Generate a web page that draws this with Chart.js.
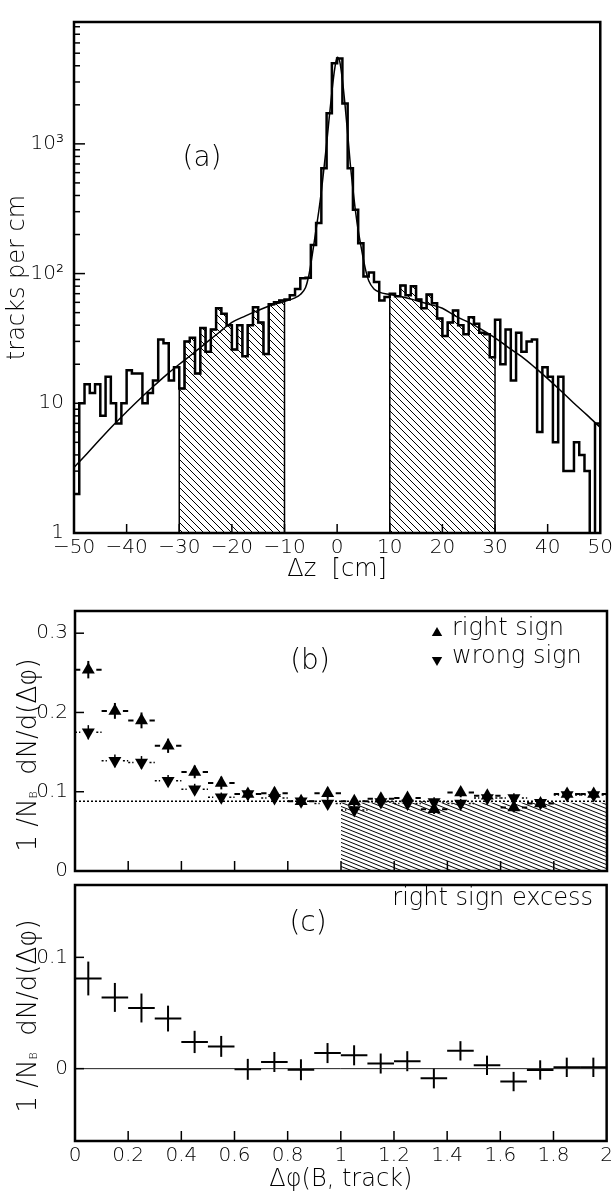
<!DOCTYPE html>
<html>
<head>
<meta charset="utf-8">
<script src="https://cdn.jsdelivr.net/npm/chart.js@4.4.0/dist/chart.umd.min.js"></script>
<style>
  html, body { margin: 0; padding: 0; background: #fff; }
  #wrap { position: relative; width: 616px; height: 1194px; overflow: hidden; }
  canvas { position: absolute; left: 0; }
</style>
</head>
<body>
<div id="wrap">
  <canvas id="chartA" width="616" height="590" style="top:0px"></canvas>
  <canvas id="chartB" width="616" height="300" style="top:590px"></canvas>
  <canvas id="chartC" width="616" height="328" style="top:866px"></canvas>
</div>
<script>
// ---- panel (a): tracks per cm, 1 cm bins from -50 to 50 ----
const dzLow = -50;
const dzBin = 1;
const tracksPerCm = [
  2, 10, 14, 12, 14, 8, 16, 10, 7, 10,
  18, 17, 17, 10, 12, 15, 31, 29, 15, 19,
  13, 30, 32, 17, 38, 25, 37, 54, 49, 40,
  26, 40, 23, 40, 55, 42, 24, 58, 60, 62,
  63, 68, 76, 92, 93, 166, 245, 650, 1720, 4180,
  4550, 2050, 650, 310, 171, 95, 102, 86, 62, 66,
  70, 67, 81, 68, 80, 63, 54, 69, 59, 45,
  33, 42, 52, 40, 34, 46, 41, 35, 34, 22.6,
  44, 20, 37, 15, 35, 25, 30, 31, 6, 19,
  16, 5, 16, 3, 3, 5, 4, 3, 0, 7
];
const sideBands = [[-30, -10], [10, 30]];

const fitDz = [-50, -47.5, -45, -42.5, -40, -37.5, -35, -32.5, -30, -27.5,
  -25, -22.5, -20, -17.5, -15, -12.5, -10, -8, -7, -6,
  -5.5, -5, -4.5, -4, -3.5, -3, -2.5, -2, -1.5, -1,
  -0.5, 0, 0.5, 1, 1.5, 2, 2.5, 3, 3.5, 4,
  4.5, 5, 5.5, 6, 7, 8, 10, 12.5, 15, 17.5,
  20, 22.5, 25, 27.5, 30, 32.5, 35, 37.5, 40, 42.5,
  45, 47.5, 50];
const fitTracks = [3.2, 4.1, 5.3, 6.8, 8.6, 10.8, 13.4, 16.5, 20, 24,
  29, 35, 42, 47, 52, 57, 61, 65, 69, 78,
  92, 118, 160, 220, 300, 430, 650, 1000, 1600, 2500,
  3700, 4650, 4300, 3100, 2000, 1200, 700, 450, 300, 215,
  165, 128, 103, 88, 76, 72, 69, 66, 62, 58,
  54, 47, 42, 37, 32, 27, 23, 19, 15.5, 12.5,
  10, 8.1, 6.5];

const aXTicks = [-50, -40, -30, -20, -10, 0, 10, 20, 30, 40, 50];
const aYTicks = [1, 2, 3, 4, 5, 6, 7, 8, 9, 10, 20, 30, 40, 50, 60, 70, 80, 90,
  100, 200, 300, 400, 500, 600, 700, 800, 900, 1000, 2000, 3000, 4000, 5000, 6000, 7000, 8000];
const aYLabels = { 1: '1', 10: '10', 100: '10\u00b2', 1000: '10\u00b3' };

// ---- panels (b) and (c): bins of Δφ(B, track) ----
const phiCenters = [0.05, 0.15, 0.25, 0.35, 0.45, 0.55, 0.65, 0.75, 0.85, 0.95,
  1.05, 1.15, 1.25, 1.35, 1.45, 1.55, 1.65, 1.75, 1.85, 1.95];
const phiHalfBin = 0.05;
const rightSign = [0.254, 0.202, 0.190, 0.158, 0.125, 0.111, 0.097, 0.098, 0.088, 0.098,
  0.088, 0.091, 0.092, 0.078, 0.099, 0.095, 0.080, 0.085, 0.097, 0.097];
const rightSignErr = [0.011, 0.010, 0.010, 0.009, 0.008, 0.008, 0.007, 0.007, 0.007, 0.007,
  0.006, 0.006, 0.006, 0.006, 0.006, 0.006, 0.006, 0.006, 0.006, 0.006];
const wrongSign = [0.175, 0.139, 0.137, 0.114, 0.103, 0.093, 0.097, 0.092, 0.088, 0.085,
  0.077, 0.087, 0.085, 0.087, 0.085, 0.092, 0.092, 0.086, 0.096, 0.096];
const wrongSignErr = [0.009, 0.008, 0.008, 0.007, 0.007, 0.006, 0.006, 0.006, 0.006, 0.006,
  0.006, 0.006, 0.006, 0.006, 0.006, 0.006, 0.006, 0.006, 0.006, 0.006];
const plateauRange = [0, 2];
const plateauLevel = 0.088;
const bandRangeB = [1, 2];
const bandLevelB = 0.086;

const excess = [0.081, 0.064, 0.0545, 0.045, 0.024, 0.020, -0.0006, 0.006, -0.001, 0.014,
  0.012, 0.0046, 0.0067, -0.0087, 0.016, 0.003, -0.0116, -0.0012, 0.0012, 0.0012];
const excessErr = [0.0152, 0.013, 0.013, 0.0116, 0.010, 0.0094, 0.0094, 0.009, 0.0094, 0.009,
  0.009, 0.009, 0.009, 0.009, 0.0087, 0.0087, 0.0087, 0.0087, 0.0087, 0.0087];

const phiTicks = [0, 0.2, 0.4, 0.6, 0.8, 1, 1.2, 1.4, 1.6, 1.8, 2];
const bYTicks = [0, 0.1, 0.2, 0.3];
const cYTicks = [0, 0.1];

const FONT = '"DejaVu Sans", sans-serif';
const W = '300 ';
Chart.defaults.font.family = FONT;
Chart.defaults.font.weight = 300;
Chart.defaults.color = '#000';

const yFloor = 0.5; // empty bins sit below the log axis

function hatchPattern(canvasId, w, h, lw) {
  const tile = document.createElement('canvas');
  tile.width = w; tile.height = h;
  const g = tile.getContext('2d');
  g.strokeStyle = '#000';
  g.lineWidth = lw;
  g.beginPath();
  [-h, 0, h].forEach(dy => { g.moveTo(-w, dy - h); g.lineTo(2 * w, dy + 2 * h); });
  g.stroke();
  return document.getElementById(canvasId).getContext('2d').createPattern(tile, 'repeat');
}

const isDecade = v => Math.abs(Math.log10(v) - Math.round(Math.log10(v))) < 1e-9;
const numLabel = v => String(+v.toFixed(2));

const boxFrame = {
  id: 'boxFrame',
  afterDraw(chart) {
    const a = chart.chartArea, ctx = chart.ctx;
    ctx.save();
    ctx.lineWidth = 2.5;
    ctx.strokeStyle = '#000';
    ctx.strokeRect(a.left, a.top, a.right - a.left, a.bottom - a.top);
    ctx.restore();
  }
};

const innerTicks = {
  id: 'innerTicks',
  afterDatasetsDraw(chart, args, opts) {
    const a = chart.chartArea, ctx = chart.ctx;
    ctx.save();
    ctx.strokeStyle = '#000';
    ctx.lineWidth = 1.5;
    (opts.axes || []).forEach(ax => {
      const sc = chart.scales[ax.id];
      sc.ticks.forEach(t => {
        const p = sc.getPixelForValue(t.value);
        const len = (ax.minor && !isDecade(t.value)) ? ax.minor : ax.len;
        if (sc.isHorizontal()) {
          if (p <= a.left + 1 || p >= a.right - 1) return;
          ctx.beginPath(); ctx.moveTo(p, a.bottom); ctx.lineTo(p, a.bottom - len); ctx.stroke();
        } else {
          if (p <= a.top + 1 || p >= a.bottom - 1) return;
          ctx.beginPath(); ctx.moveTo(a.left, p); ctx.lineTo(a.left + len, p); ctx.stroke();
        }
      });
    });
    ctx.restore();
  }
};

const errorBars = {
  id: 'errorBars',
  beforeDatasetsDraw(chart) {
    const ctx = chart.ctx, xs = chart.scales.x, ys = chart.scales.y;
    chart.data.datasets.forEach(ds => {
      if (!ds.errY) return;
      ctx.save();
      ctx.strokeStyle = '#000';
      ctx.lineWidth = ds.barWidth || 1.5;
      ds.data.forEach((pt, i) => {
        const px = xs.getPixelForValue(pt.x), py = ys.getPixelForValue(pt.y);
        const xl = xs.getPixelForValue(pt.x - phiHalfBin), xr = xs.getPixelForValue(pt.x + phiHalfBin);
        const yt = ys.getPixelForValue(pt.y + ds.errY[i]), yb = ys.getPixelForValue(pt.y - ds.errY[i]);
        const gap = ds.barGap || 0;
        ctx.setLineDash(ds.barDash || []);
        ctx.beginPath();
        ctx.moveTo(xl, py); ctx.lineTo(px - gap, py);
        ctx.moveTo(px + gap, py); ctx.lineTo(xr, py);
        ctx.stroke();
        ctx.setLineDash([]);
        ctx.beginPath();
        ctx.moveTo(px, yt); ctx.lineTo(px, yb);
        ctx.stroke();
      });
      ctx.restore();
    });
  }
};

function triangle(ctx, x, y, r, down) {
  const s = down ? -1 : 1;
  ctx.beginPath();
  ctx.moveTo(x, y - s * r);
  ctx.lineTo(x + r * 0.866, y + s * r * 0.5);
  ctx.lineTo(x - r * 0.866, y + s * r * 0.5);
  ctx.closePath();
  ctx.fill();
}

const panelText = {
  id: 'panelText',
  afterDraw(chart, args, opts) {
    const ctx = chart.ctx;
    ctx.save();
    ctx.fillStyle = '#000';
    (opts.items || []).forEach(it => {
      ctx.font = it.font;
      ctx.textAlign = it.align || 'left';
      ctx.textBaseline = it.baseline || 'alphabetic';
      ctx.fillText(it.text, it.x, it.y);
    });
    (opts.marks || []).forEach(m => triangle(ctx, m.x, m.y, m.r, m.down));
    ctx.restore();
  }
};

// rotated "1/N_B dN/d(Δφ)" title, B as a small subscript
const ratioTitle = {
  id: 'ratioTitle',
  afterDraw(chart, args, opts) {
    if (!opts.show) return;
    const a = chart.chartArea, ctx = chart.ctx;
    const parts = [
      { t: '1 /N', f: W + '26px ' + FONT, dy: 0 },
      { t: 'B', f: W + '11px ' + FONT, dy: 1 },
      { t: '  dN/d(\u0394\u03c6)', f: W + '26px ' + FONT, dy: 0 }
    ];
    ctx.save();
    ctx.translate(opts.x, (a.top + a.bottom) / 2 + opts.dy);
    ctx.rotate(-Math.PI / 2);
    ctx.fillStyle = '#000';
    ctx.textBaseline = 'alphabetic';
    ctx.textAlign = 'left';
    let total = 0;
    parts.forEach(p => { ctx.font = p.f; p.w = ctx.measureText(p.t).width; total += p.w; });
    let u = -total / 2;
    parts.forEach(p => { ctx.font = p.f; ctx.fillText(p.t, u, p.dy); u += p.w; });
    ctx.restore();
  }
};

// ---------- chart (a) ----------
const histPoints = tracksPerCm.map((v, i) => ({ x: dzLow + i * dzBin, y: v > 0 ? v : yFloor }));
histPoints.push({ x: dzLow + tracksPerCm.length * dzBin, y: tracksPerCm[tracksPerCm.length - 1] });
histPoints.push({ x: dzLow + tracksPerCm.length * dzBin, y: yFloor });

function bandPoints(lo, hi) {
  const pts = [{ x: lo, y: yFloor }];
  let last = yFloor;
  tracksPerCm.forEach((v, i) => {
    const x = dzLow + i * dzBin;
    if (x >= lo && x < hi) { pts.push({ x, y: v }); last = v; }
  });
  pts.push({ x: hi, y: last });
  pts.push({ x: hi, y: yFloor });
  return pts;
}

const patA = hatchPattern('chartA', 7, 7, 1);
const fitPoints = fitDz.map((x, i) => ({ x, y: fitTracks[i] }));

new Chart(document.getElementById('chartA'), {
  type: 'line',
  data: {
    datasets: [
      { label: 'data', data: histPoints, stepped: true, borderColor: '#000', borderWidth: 2.5, pointRadius: 0, fill: false },
      { label: 'fit', data: fitPoints, borderColor: '#000', borderWidth: 1.5, pointRadius: 0, fill: false, cubicInterpolationMode: 'monotone' },
      ...sideBands.map(b => ({
        label: 'side band', data: bandPoints(b[0], b[1]), stepped: true,
        borderColor: '#000', borderWidth: 1.5, pointRadius: 0, fill: 'start', backgroundColor: patA
      }))
    ]
  },
  options: {
    responsive: false,
    animation: false,
    devicePixelRatio: 1,
    layout: { autoPadding: false, padding: { left: 0, right: 11, top: 4, bottom: 0 } },
    plugins: {
      legend: { display: false },
      tooltip: { enabled: false },
      innerTicks: { axes: [{ id: 'x', len: 9 }, { id: 'y', len: 11, minor: 6 }] },
      panelText: { items: [{ text: '(a)', x: 202, y: 159, font: W + '28px ' + FONT, align: 'center', baseline: 'middle' }] }
    },
    scales: {
      x: {
        type: 'linear', min: -50, max: 50,
        afterBuildTicks: s => { s.ticks = aXTicks.map(v => ({ value: v })); },
        afterFit: s => { s.height = 57; },
        grid: { display: false, drawTicks: false },
        border: { display: false },
        ticks: {
          autoSkip: false, maxRotation: 0, padding: 3, font: { size: 20 },
          callback: v => v < 0 ? '\u2212' + (-v) : String(v)
        },
        title: { display: true, text: '\u0394z  [cm]', font: { size: 24 }, padding: { top: 0, bottom: 6 } }
      },
      y: {
        type: 'logarithmic', min: 1, max: 8700,
        afterBuildTicks: s => { s.ticks = aYTicks.map(v => ({ value: v })); },
        afterFit: s => { s.width = 74; },
        grid: { display: false, drawTicks: false },
        border: { display: false },
        ticks: { autoSkip: false, padding: 10, font: { size: 20 }, callback: v => aYLabels[v] || '' },
        title: { display: true, text: 'tracks per cm', font: { size: 24 }, padding: { top: 3, bottom: 0 } }
      }
    }
  },
  plugins: [innerTicks, boxFrame, panelText]
});

// ---------- chart (b) ----------
const patB = hatchPattern('chartB', 10, 4, 1);

new Chart(document.getElementById('chartB'), {
  type: 'line',
  data: {
    datasets: [
      {
        label: 'right sign', data: phiCenters.map((x, i) => ({ x, y: rightSign[i] })), showLine: false,
        pointStyle: 'triangle', pointRadius: 7.5, pointBackgroundColor: '#000', pointBorderWidth: 0,
        errY: rightSignErr, barWidth: 2, barGap: 8
      },
      {
        label: 'wrong sign', data: phiCenters.map((x, i) => ({ x, y: wrongSign[i] })), showLine: false,
        pointStyle: 'triangle', pointRotation: 180, pointRadius: 7.5, pointBackgroundColor: '#000', pointBorderWidth: 0,
        errY: wrongSignErr, barWidth: 1.5, barGap: 8, barDash: [2, 2]
      },
      {
        label: 'plateau', data: plateauRange.map(x => ({ x, y: plateauLevel })),
        borderColor: '#000', borderWidth: 1.5, borderDash: [2, 2], pointRadius: 0, fill: false
      },
      {
        label: 'band', data: bandRangeB.map(x => ({ x, y: bandLevelB })),
        borderWidth: 0, pointRadius: 0, fill: 'start', backgroundColor: patB
      }
    ]
  },
  options: {
    responsive: false,
    animation: false,
    devicePixelRatio: 1,
    layout: { autoPadding: false, padding: { left: 0, right: 9, top: 21, bottom: 0 } },
    plugins: {
      legend: { display: false },
      tooltip: { enabled: false },
      innerTicks: { axes: [{ id: 'x', len: 10 }, { id: 'y', len: 9 }] },
      ratioTitle: { show: true, x: 36, dy: 14 },
      panelText: {
        items: [
          { text: '(b)', x: 310, y: 72, font: W + '28px ' + FONT, align: 'center', baseline: 'middle' },
          { text: 'right sign', x: 452, y: 45, font: W + '24px ' + FONT },
          { text: 'wrong sign', x: 452, y: 73, font: W + '24px ' + FONT }
        ],
        marks: [{ x: 437, y: 43, r: 6, down: false }, { x: 437, y: 70, r: 6, down: true }]
      }
    },
    scales: {
      x: {
        type: 'linear', min: 0, max: 2,
        afterBuildTicks: s => { s.ticks = phiTicks.map(v => ({ value: v })); },
        afterFit: s => { s.height = 14; },
        grid: { display: false, drawTicks: false },
        border: { display: false },
        ticks: { display: false }
      },
      y: {
        type: 'linear', min: 0, max: 0.328,
        afterBuildTicks: s => { s.ticks = bYTicks.map(v => ({ value: v })); },
        afterFit: s => { s.width = 75; },
        grid: { display: false, drawTicks: false },
        border: { display: false },
        ticks: { autoSkip: false, padding: 7, font: { size: 20 }, callback: numLabel }
      }
    }
  },
  plugins: [errorBars, innerTicks, boxFrame, ratioTitle, panelText]
});

// ---------- chart (c) ----------
new Chart(document.getElementById('chartC'), {
  type: 'line',
  data: {
    datasets: [
      {
        label: 'right sign excess', data: phiCenters.map((x, i) => ({ x, y: excess[i] })), showLine: false,
        pointRadius: 0, errY: excessErr, barWidth: 2, barGap: 0
      },
      {
        label: 'zero', data: plateauRange.map(x => ({ x, y: 0 })),
        borderColor: '#222', borderWidth: 1, pointRadius: 0, fill: false
      }
    ]
  },
  options: {
    responsive: false,
    animation: false,
    devicePixelRatio: 1,
    layout: { autoPadding: false, padding: { left: 0, right: 9, top: 10, bottom: 0 } },
    plugins: {
      legend: { display: false },
      tooltip: { enabled: false },
      innerTicks: { axes: [{ id: 'x', len: 10 }, { id: 'y', len: 9 }] },
      ratioTitle: { show: true, x: 36, dy: 3 },
      panelText: {
        items: [
          { text: 'right sign excess', x: 593, y: 39, font: W + '24px ' + FONT, align: 'right' },
          { text: '(c)', x: 308, y: 58, font: W + '28px ' + FONT, align: 'center', baseline: 'middle' }
        ]
      }
    },
    scales: {
      x: {
        type: 'linear', min: 0, max: 2,
        afterBuildTicks: s => { s.ticks = phiTicks.map(v => ({ value: v })); },
        afterFit: s => { s.height = 53; },
        grid: { display: false, drawTicks: false },
        border: { display: false },
        ticks: { autoSkip: false, maxRotation: 0, padding: 3, font: { size: 20 }, callback: numLabel },
        title: { display: true, text: '\u0394\u03c6(B, track)', font: { size: 24 }, padding: { top: 0, bottom: 0 } }
      },
      y: {
        type: 'linear', min: -0.065, max: 0.165,
        afterBuildTicks: s => { s.ticks = cYTicks.map(v => ({ value: v })); },
        afterFit: s => { s.width = 75; },
        grid: { display: false, drawTicks: false },
        border: { display: false },
        ticks: { autoSkip: false, padding: 7, font: { size: 20 }, callback: numLabel }
      }
    }
  },
  plugins: [errorBars, innerTicks, boxFrame, ratioTitle, panelText]
});
</script>
</body>
</html>
